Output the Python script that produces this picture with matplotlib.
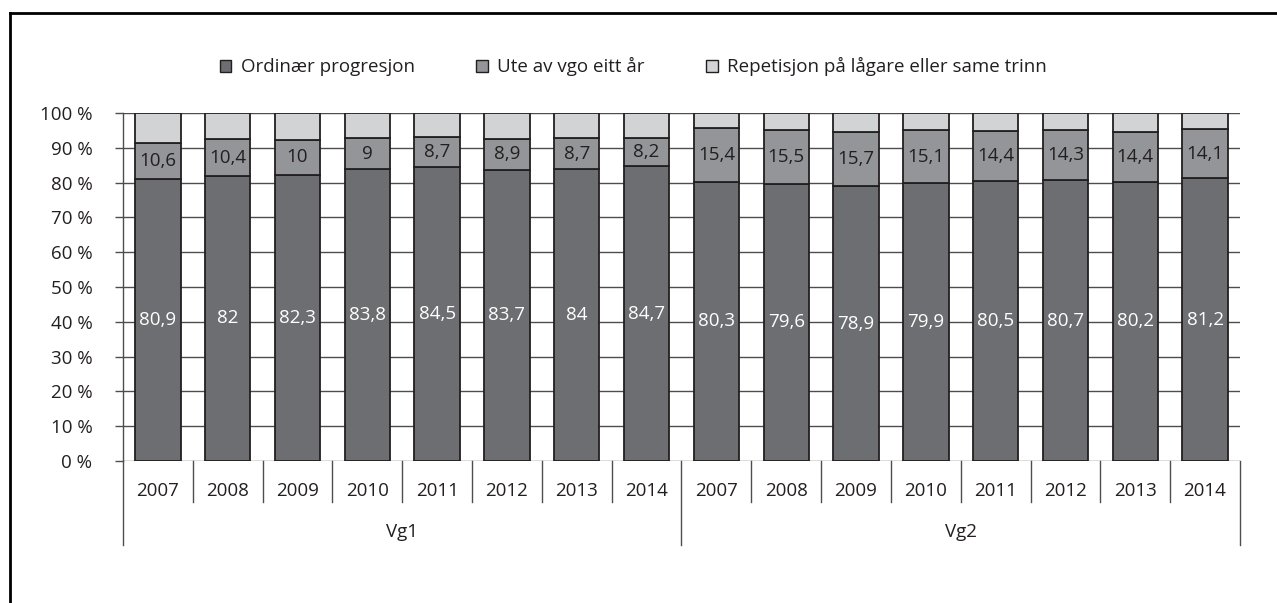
import numpy as np
import matplotlib.pyplot as plt
from matplotlib.lines import Line2D
from matplotlib.patches import Patch

plt.rcParams['font.family'] = ['Open Sans', 'DejaVu Sans']

years = ['2007', '2008', '2009', '2010', '2011', '2012', '2013', '2014']
groups = ['Vg1', 'Vg2']
ordinaer = [80.9, 82, 82.3, 83.8, 84.5, 83.7, 84, 84.7,
            80.3, 79.6, 78.9, 79.9, 80.5, 80.7, 80.2, 81.2]
ute = [10.6, 10.4, 10, 9, 8.7, 8.9, 8.7, 8.2,
       15.4, 15.5, 15.7, 15.1, 14.4, 14.3, 14.4, 14.1]
ordinaer_lbl = ['80,9', '82', '82,3', '83,8', '84,5', '83,7', '84', '84,7',
                '80,3', '79,6', '78,9', '79,9', '80,5', '80,7', '80,2', '81,2']
ute_lbl = ['10,6', '10,4', '10', '9', '8,7', '8,9', '8,7', '8,2',
           '15,4', '15,5', '15,7', '15,1', '14,4', '14,3', '14,4', '14,1']
series_names = ['Ordinær progresjon', 'Ute av vgo eitt år',
                'Repetisjon på lågare eller same trinn']

ordinaer = np.array(ordinaer)
ute = np.array(ute)
repetisjon = 100 - ordinaer - ute

c_dark = '#6d6e71'
c_mid = '#939598'
c_light = '#d1d3d4'
edge = '#231f20'
txt = '#231f20'
fs = 13.5

fig = plt.figure(figsize=(12.77, 6.03), dpi=100)
ax = fig.add_axes([0.0963, 0.2355, 0.8747, 0.5771])

n = len(ordinaer)
x = np.arange(n)
w = 0.65
ax.bar(x, ordinaer, w, color=c_dark, edgecolor=edge, linewidth=1.3, zorder=3)
ax.bar(x, ute, w, bottom=ordinaer, color=c_mid, edgecolor=edge, linewidth=1.3, zorder=3)
ax.bar(x, repetisjon, w, bottom=ordinaer + ute, color=c_light, edgecolor=edge,
       linewidth=1.3, zorder=3)

for i in range(n):
    ax.text(x[i], ordinaer[i] / 2, ordinaer_lbl[i], ha='center', va='center',
            color='white', fontsize=fs, zorder=4)
    ax.text(x[i], ordinaer[i] + ute[i] / 2, ute_lbl[i], ha='center', va='center',
            color=txt, fontsize=fs, zorder=4)

ax.set_xlim(-0.5, n - 0.5)
ax.set_ylim(0, 100)
ax.set_yticks(np.arange(0, 101, 10))
ax.set_yticklabels([f'{v} %' for v in range(0, 101, 10)], fontsize=fs, color=txt)
ax.yaxis.grid(True, color='#4d4d4f', linewidth=1.0, zorder=0)
ax.tick_params(axis='y', length=6, width=1.0, color='#4d4d4f', pad=16)
ax.set_xticks([])
for s in ['top', 'right', 'bottom']:
    ax.spines[s].set_visible(False)
ax.spines['left'].set_color('#4d4d4f')
ax.spines['left'].set_linewidth(1.0)

# category labels and separators below the axis
trans = ax.get_xaxis_transform()
for i in range(n):
    ax.text(x[i], -0.085, years[i % len(years)], transform=trans, ha='center',
            va='center', fontsize=fs, color=txt, clip_on=False)
for b in range(n + 1):
    xb = b - 0.5
    if b % len(years) == 0:
        y_end = -0.24
    else:
        y_end = -0.118
    ax.plot([xb, xb], [0, y_end], transform=trans, color='#4d4d4f',
            linewidth=1.0, clip_on=False)
for g, name in enumerate(groups):
    xc = g * len(years) + (len(years) - 1) / 2
    ax.text(xc, -0.205, name, transform=trans, ha='center', va='center',
            fontsize=fs, color=txt, clip_on=False)

handles = [Patch(facecolor=c, edgecolor=edge, linewidth=1.0)
           for c in [c_dark, c_mid, c_light]]
fig.legend(handles, series_names, loc='center', bbox_to_anchor=(0.496, 0.889),
           ncol=3, frameon=False, fontsize=fs, handlelength=0.6, handleheight=0.6,
           handletextpad=0.5, columnspacing=3.3, labelcolor=txt)

# frame around the figure
fig.add_artist(Line2D([10 / 1277, 10 / 1277], [0, 1 - 13 / 603],
                      transform=fig.transFigure, color='black', linewidth=2))
fig.add_artist(Line2D([10 / 1277, 1], [1 - 13 / 603, 1 - 13 / 603],
                      transform=fig.transFigure, color='black', linewidth=2))

fig.savefig('out.png', dpi=100)
